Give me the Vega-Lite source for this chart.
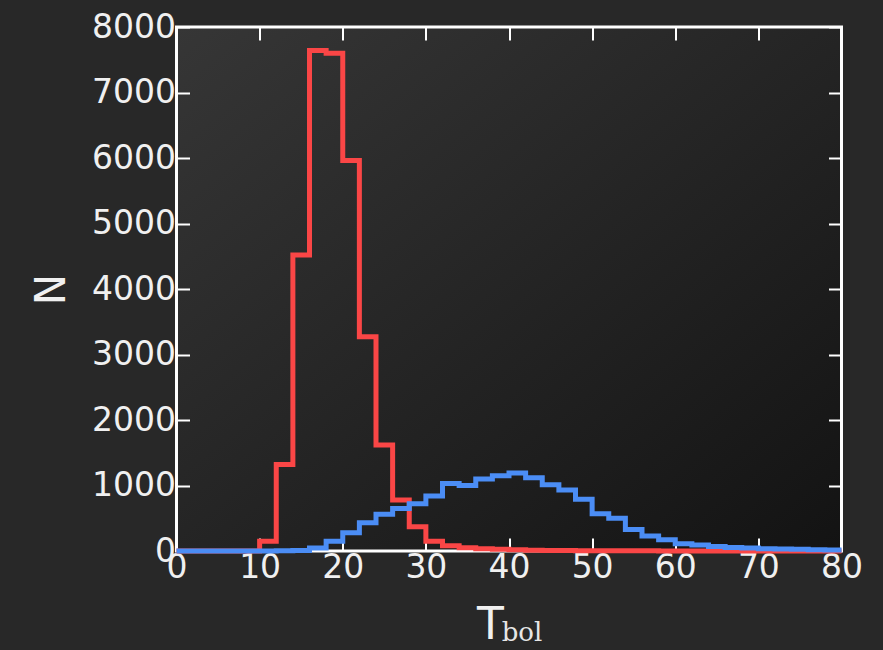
{
  "$schema": "https://vega.github.io/schema/vega-lite/v6.json",
  "width": 665,
  "height": 524,
  "autosize": {"type": "none"},
  "padding": {"left": 176.5, "top": 27, "right": 41.5, "bottom": 99},
  "background": "#282828",
  "config": {
    "font": "DejaVu Sans",
    "view": {
      "stroke": "#ffffff",
      "strokeWidth": 3,
      "fill": {
        "gradient": "linear",
        "x1": 0, "y1": 0, "x2": 1, "y2": 1,
        "stops": [
          {"offset": 0, "color": "#363636"},
          {"offset": 1, "color": "#131313"}
        ]
      }
    },
    "axis": {
      "grid": false,
      "domain": false,
      "tickColor": "#ffffff",
      "tickWidth": 2,
      "tickSize": -13,
      "labelColor": "#f0f0f0",
      "labelFont": "DejaVu Sans",
      "labelFontSize": 33,
      "labelFlush": false,
      "labelOverlap": false,
      "titleColor": "#f0f0f0",
      "titleFont": "DejaVu Sans",
      "titleFontWeight": "normal"
    },
    "title": {"color": "#f0f0f0"}
  },
  "title": {
    "text": "bol",
    "orient": "bottom",
    "anchor": "middle",
    "font": "DejaVu Serif",
    "fontSize": 26,
    "fontWeight": "normal",
    "color": "#e6e6e6",
    "dx": 13,
    "offset": -27
  },
  "datasets": {
    "red": [
      {"T": 0, "N": 0}, {"T": 2, "N": 0}, {"T": 4, "N": 0}, {"T": 6, "N": 0}, {"T": 8, "N": 0},
      {"T": 10, "N": 150}, {"T": 12, "N": 1320}, {"T": 14, "N": 4520}, {"T": 16, "N": 7640},
      {"T": 18, "N": 7600}, {"T": 20, "N": 5960}, {"T": 22, "N": 3270}, {"T": 24, "N": 1620},
      {"T": 26, "N": 780}, {"T": 28, "N": 370}, {"T": 30, "N": 150}, {"T": 32, "N": 80},
      {"T": 34, "N": 50}, {"T": 36, "N": 35}, {"T": 38, "N": 25}, {"T": 40, "N": 18},
      {"T": 42, "N": 12}, {"T": 44, "N": 9}, {"T": 46, "N": 6}, {"T": 48, "N": 5},
      {"T": 50, "N": 4}, {"T": 52, "N": 3}, {"T": 54, "N": 2}, {"T": 56, "N": 2},
      {"T": 58, "N": 1}, {"T": 60, "N": 1}, {"T": 62, "N": 0}, {"T": 64, "N": 0},
      {"T": 66, "N": 0}, {"T": 68, "N": 0}, {"T": 70, "N": 0}, {"T": 72, "N": 0},
      {"T": 74, "N": 0}, {"T": 76, "N": 0}, {"T": 78, "N": 0}, {"T": 80, "N": 0}
    ],
    "blue": [
      {"T": 0, "N": 0}, {"T": 2, "N": 0}, {"T": 4, "N": 0}, {"T": 6, "N": 0}, {"T": 8, "N": 0},
      {"T": 10, "N": 0}, {"T": 12, "N": 2}, {"T": 14, "N": 8}, {"T": 16, "N": 45},
      {"T": 18, "N": 150}, {"T": 20, "N": 280}, {"T": 22, "N": 430}, {"T": 24, "N": 560},
      {"T": 26, "N": 650}, {"T": 28, "N": 720}, {"T": 30, "N": 840}, {"T": 32, "N": 1030},
      {"T": 34, "N": 1000}, {"T": 36, "N": 1100}, {"T": 38, "N": 1150}, {"T": 40, "N": 1190},
      {"T": 42, "N": 1120}, {"T": 44, "N": 1010}, {"T": 46, "N": 930}, {"T": 48, "N": 790},
      {"T": 50, "N": 570}, {"T": 52, "N": 500}, {"T": 54, "N": 330}, {"T": 56, "N": 230},
      {"T": 58, "N": 170}, {"T": 60, "N": 110}, {"T": 62, "N": 90}, {"T": 64, "N": 70},
      {"T": 66, "N": 55}, {"T": 68, "N": 45}, {"T": 70, "N": 35}, {"T": 72, "N": 30},
      {"T": 74, "N": 25}, {"T": 76, "N": 20}, {"T": 78, "N": 15}, {"T": 80, "N": 15}
    ]
  },
  "layer": [
    {
      "data": {"name": "red"},
      "mark": {"type": "line", "interpolate": "step-after", "color": "#fa4646", "strokeWidth": 5, "strokeJoin": "miter", "strokeCap": "butt"},
      "encoding": {
        "x": {
          "field": "T", "type": "quantitative",
          "scale": {"domain": [0, 80], "nice": false, "zero": false},
          "axis": {"orient": "bottom", "values": [0, 10, 20, 30, 40, 50, 60, 70, 80], "title": "T", "titleFontSize": 44, "titleX": 313.5, "titleAnchor": null, "titlePadding": 19, "labelPadding": 13}
        },
        "y": {
          "field": "N", "type": "quantitative",
          "scale": {"domain": [0, 8000], "nice": false},
          "axis": {"orient": "left", "values": [0, 1000, 2000, 3000, 4000, 5000, 6000, 7000, 8000], "format": "d", "title": "N", "titleFontSize": 42, "titlePadding": 18, "labelPadding": 14}
        }
      }
    },
    {
      "data": {"name": "blue"},
      "mark": {"type": "line", "interpolate": "step-after", "color": "#4b8df5", "strokeWidth": 5, "strokeJoin": "miter", "strokeCap": "butt"},
      "encoding": {
        "x": {
          "field": "T", "type": "quantitative",
          "scale": {"domain": [0, 80], "nice": false, "zero": false},
          "axis": {"orient": "top", "values": [0, 10, 20, 30, 40, 50, 60, 70, 80], "labels": false, "title": null}
        },
        "y": {
          "field": "N", "type": "quantitative",
          "scale": {"domain": [0, 8000], "nice": false},
          "axis": {"orient": "right", "values": [0, 1000, 2000, 3000, 4000, 5000, 6000, 7000, 8000], "labels": false, "title": null}
        }
      }
    }
  ],
  "resolve": {"axis": {"x": "independent", "y": "independent"}}
}
